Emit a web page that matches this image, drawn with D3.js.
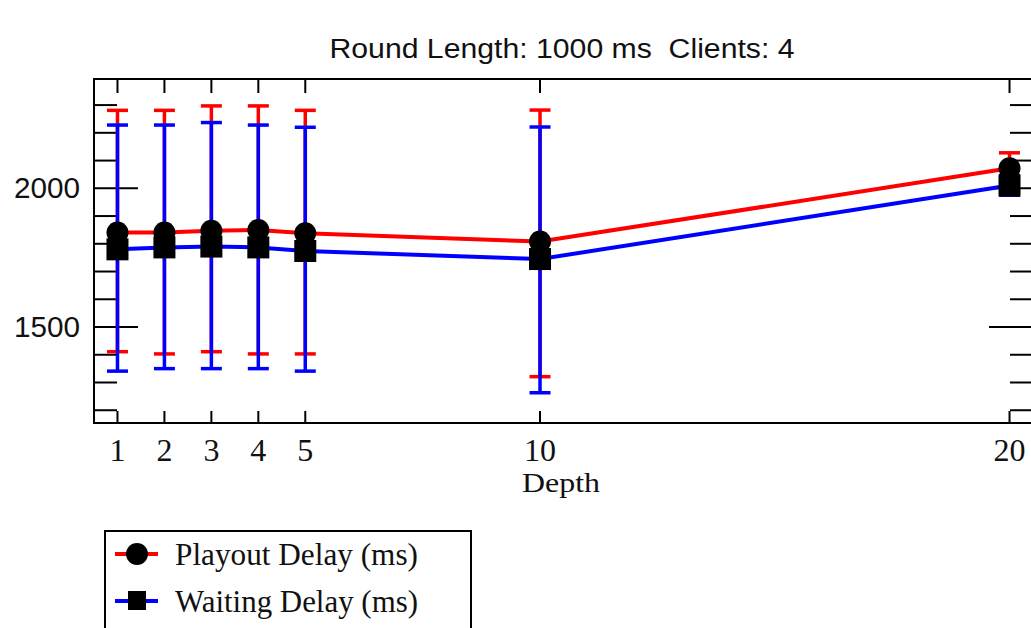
<!DOCTYPE html>
<html>
<head>
<meta charset="utf-8">
<script src="https://cdn.jsdelivr.net/npm/d3@7"></script>
<style>
  html, body { margin: 0; padding: 0; background: #fff; overflow: hidden; }
  svg { display: block; }
</style>
</head>
<body>
<svg id="chart" width="1031" height="628"></svg>
<script>
// Depth values along the x axis
const depths = [1, 2, 3, 4, 5, 10, 20];
const xTickLabels = ["1", "2", "3", "4", "5", "10", "20"];

// Playout delay (ms): mean and error-bar extent
const playoutMean = [1841, 1841, 1847, 1850, 1838, 1808, 2072];
const playoutHigh = [2281, 2281, 2297, 2297, 2281, 2282, 2128];
const playoutLow  = [1411, 1403, 1411, 1403, 1403, 1321, 2018];

// Waiting delay (ms): mean and error-bar extent
const waitingMean = [1780, 1787, 1790, 1787, 1774, 1745, 2010];
const waitingHigh = [2228, 2228, 2237, 2228, 2220, 2221, 2046];
const waitingLow  = [1341, 1350, 1350, 1350, 1341, 1263, 1975];

const yMajorTicks = [1500, 2000];
const yMinorTicks = d3.range(1200, 2301, 100);

const titleText = "Round Length: 1000 ms\u00a0\u00a0Clients: 4";
const xAxisTitle = "Depth";
const legendLabels = ["Playout Delay (ms)", "Waiting Delay (ms)"];

const svg = d3.select("#chart");
const L = 94, R = 1033, T = 79, B = 423;

const x = d3.scaleLinear().domain([0.5, 20.5]).range([L, R]);
const y = d3.scaleLinear().domain([1154, 2394]).range([B, T]);

const sans = "'Liberation Sans', Arial, sans-serif";
const serif = "'Liberation Serif', 'Times New Roman', serif";

// Title
svg.append("text")
  .attr("x", 562).attr("y", 58)
  .attr("text-anchor", "middle")
  .attr("font-family", sans).attr("font-size", 27)
  .attr("textLength", 465).attr("lengthAdjust", "spacingAndGlyphs")
  .attr("fill", "#111")
  .text(titleText);

// Frame
svg.append("rect")
  .attr("x", L).attr("y", T).attr("width", R - L).attr("height", B - T)
  .attr("fill", "none").attr("stroke", "#000").attr("stroke-width", 2);

// Tick marks on all four sides
const tickG = svg.append("g").attr("stroke", "#000").attr("stroke-width", 2);
yMinorTicks.forEach(v => {
  const len = yMajorTicks.includes(v) ? 44 : 23;
  tickG.append("line").attr("x1", L).attr("x2", L + len).attr("y1", y(v)).attr("y2", y(v));
  tickG.append("line").attr("x1", R).attr("x2", R - len).attr("y1", y(v)).attr("y2", y(v));
});
depths.forEach(d => {
  tickG.append("line").attr("x1", x(d)).attr("x2", x(d)).attr("y1", B).attr("y2", B - 12);
  tickG.append("line").attr("x1", x(d)).attr("x2", x(d)).attr("y1", T).attr("y2", T + 14);
});

// Y tick labels
svg.append("g").selectAll("text").data(yMajorTicks).join("text")
  .attr("x", 80).attr("y", d => y(d) + 10)
  .attr("text-anchor", "end")
  .attr("font-family", sans).attr("font-size", 29)
  .attr("textLength", 66).attr("lengthAdjust", "spacingAndGlyphs")
  .attr("fill", "#111")
  .text(d => d);

// X tick labels
svg.append("g").selectAll("text").data(depths).join("text")
  .attr("x", d => x(d)).attr("y", 461)
  .attr("text-anchor", "middle")
  .attr("font-family", serif).attr("font-size", 32)
  .attr("fill", "#111")
  .text((d, i) => xTickLabels[i]);

// X axis title
svg.append("text")
  .attr("x", 561).attr("y", 492)
  .attr("text-anchor", "middle")
  .attr("font-family", serif).attr("font-size", 28)
  .attr("textLength", 78).attr("lengthAdjust", "spacingAndGlyphs")
  .attr("fill", "#111")
  .text(xAxisTitle);

// Error bars
function errorBars(low, high, color) {
  const g = svg.append("g").attr("stroke", color).attr("stroke-width", 3.5);
  depths.forEach((d, i) => {
    const cx = x(d);
    g.append("line").attr("x1", cx).attr("x2", cx).attr("y1", y(low[i])).attr("y2", y(high[i]));
    g.append("line").attr("x1", cx - 10.5).attr("x2", cx + 10.5).attr("y1", y(low[i])).attr("y2", y(low[i]));
    g.append("line").attr("x1", cx - 10.5).attr("x2", cx + 10.5).attr("y1", y(high[i])).attr("y2", y(high[i]));
  });
}
errorBars(playoutLow, playoutHigh, "#ff0000");
errorBars(waitingLow, waitingHigh, "#0000ff");

// Mean lines
const line = d3.line().x(d => x(d[0])).y(d => y(d[1]));
svg.append("path")
  .datum(depths.map((d, i) => [d, playoutMean[i]]))
  .attr("d", line).attr("fill", "none").attr("stroke", "#ff0000").attr("stroke-width", 4);
svg.append("path")
  .datum(depths.map((d, i) => [d, waitingMean[i]]))
  .attr("d", line).attr("fill", "none").attr("stroke", "#0000ff").attr("stroke-width", 4);

// Markers
svg.append("g").selectAll("circle").data(depths).join("circle")
  .attr("cx", d => x(d)).attr("cy", (d, i) => y(playoutMean[i]))
  .attr("r", 11).attr("fill", "#000");
svg.append("g").selectAll("rect").data(depths).join("rect")
  .attr("x", d => x(d) - 11).attr("y", (d, i) => y(waitingMean[i]) - 11)
  .attr("width", 22).attr("height", 22).attr("fill", "#000");

// Legend
const lg = svg.append("g");
lg.append("rect")
  .attr("x", 105).attr("y", 531).attr("width", 366).attr("height", 130)
  .attr("fill", "#fff").attr("stroke", "#000").attr("stroke-width", 2);
const legendColors = ["#ff0000", "#0000ff"];
const legendY = [554, 601];
legendLabels.forEach((lab, i) => {
  lg.append("line").attr("x1", 115).attr("x2", 158).attr("y1", legendY[i]).attr("y2", legendY[i])
    .attr("stroke", legendColors[i]).attr("stroke-width", 4);
  if (i === 0) {
    lg.append("circle").attr("cx", 137).attr("cy", legendY[i]).attr("r", 11).attr("fill", "#000");
  } else {
    lg.append("rect").attr("x", 128).attr("y", legendY[i] - 10).attr("width", 18).attr("height", 19).attr("fill", "#000");
  }
  lg.append("text")
    .attr("x", 175).attr("y", legendY[i] + 11)
    .attr("font-family", serif).attr("font-size", 31)
    .attr("textLength", 243).attr("lengthAdjust", "spacingAndGlyphs")
    .attr("fill", "#111")
    .text(lab);
});
</script>
</body>
</html>
